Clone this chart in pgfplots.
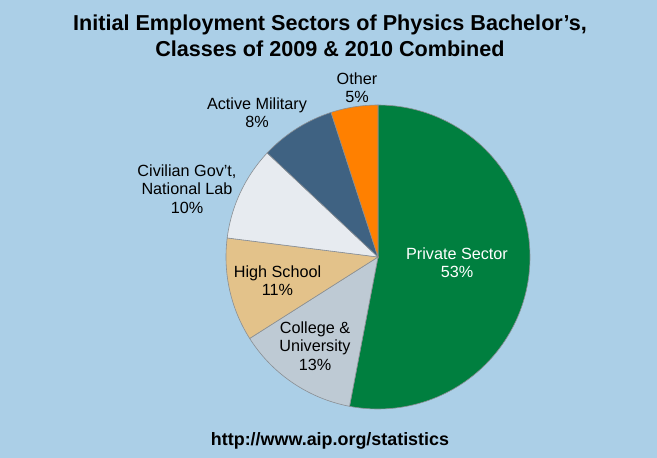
\documentclass[border=0pt]{standalone}
\usepackage{fontspec}
\setmainfont{Liberation Sans}
\usepackage{pgfplots}
\pgfplotsset{compat=1.18}
\definecolor{bg}{HTML}{ABCFE7}
\definecolor{cpriv}{HTML}{007F3F}
\definecolor{ccoll}{HTML}{BECAD4}
\definecolor{chigh}{HTML}{E3C28A}
\definecolor{cciv}{HTML}{E7EBF0}
\definecolor{cmil}{HTML}{3F6282}
\definecolor{coth}{HTML}{FF8000}
\definecolor{edge}{HTML}{8A8F94}
% shares (percent), clockwise from 12 o'clock
\def\pPriv{53}\def\pColl{13}\def\pHigh{11}\def\pCiv{10}\def\pMil{8}\def\pOth{5}
\def\cx{378}\def\cy{257}\def\rr{152}
\pgfmathsetmacro\aA{90}
\pgfmathsetmacro\aB{\aA-3.6*\pPriv}
\pgfmathsetmacro\aC{\aB-3.6*\pColl}
\pgfmathsetmacro\aD{\aC-3.6*\pHigh}
\pgfmathsetmacro\aE{\aD-3.6*\pCiv}
\pgfmathsetmacro\aF{\aE-3.6*\pMil}
\pgfmathsetmacro\aG{\aF-3.6*\pOth}
\newcommand\piewedge[3]{%
  \addplot[fill=#1, draw=edge, line width=0.6pt, domain=#3:#2, samples=120, variable=\t]
    ({\cx+\rr*cos(\t)},{\cy-\rr*sin(\t)}) -- (axis cs:\cx,\cy) -- cycle;}
\begin{document}
\begin{tikzpicture}
\begin{axis}[x=1pt, y=1pt, xmin=0, xmax=657, ymin=0, ymax=458, y dir=reverse,
  hide axis, scale only axis, clip=false]
\fill[bg] (axis cs:0,0) rectangle (axis cs:657,458);
\piewedge{cpriv}{\aA}{\aB}
\piewedge{ccoll}{\aB}{\aC}
\piewedge{chigh}{\aC}{\aD}
\piewedge{cciv}{\aD}{\aE}
\piewedge{cmil}{\aE}{\aF}
\piewedge{coth}{\aF}{\aG}
\node[align=center, font=\fontsize{21.6}{25.5}\selectfont\bfseries] at (axis cs:330,36)
  {Initial Employment Sectors of Physics Bachelor’s,\\Classes of 2009 \& 2010 Combined};
\begin{scope}[every node/.style={align=center, font=\fontsize{16.2}{18.3}\selectfont}]
\node at (axis cs:357,88) {Other\\5\%};
\node at (axis cs:257,113) {Active Military\\8\%};
\node at (axis cs:187,189) {Civilian Gov’t,\\National Lab\\10\%};
\node at (axis cs:277.5,281) {High School\\11\%};
\node at (axis cs:315,346) {College \&\\University\\13\%};
\node[text=white] at (axis cs:457,263) {Private Sector\\53\%};
\end{scope}
\node[font=\fontsize{17.9}{20}\selectfont\bfseries] at (axis cs:330,441) {http://www.aip.org/statistics};
\end{axis}
\end{tikzpicture}
\end{document}
